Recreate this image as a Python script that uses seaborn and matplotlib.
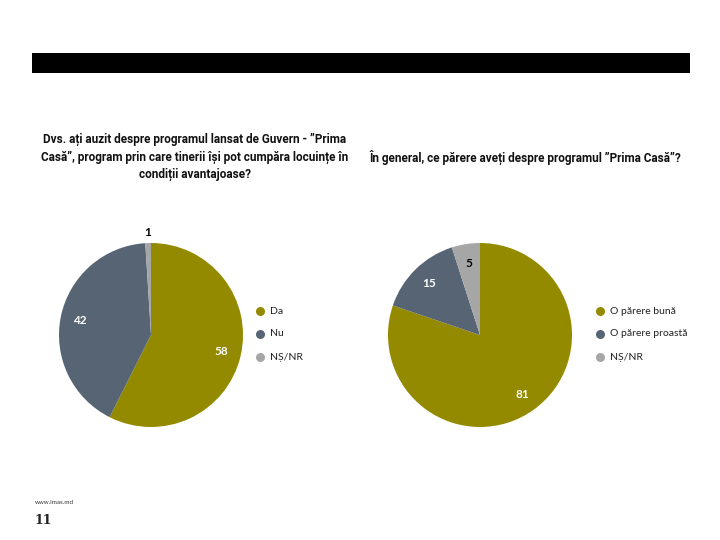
import numpy as np
import matplotlib
matplotlib.use("Agg")
import matplotlib.pyplot as plt
import seaborn as sns
from matplotlib.patches import Rectangle
from matplotlib.lines import Line2D

sns.set_theme(style="white")
plt.rcParams['font.family'] = ['Lato', 'DejaVu Sans']

# Data
q1_title = "Dvs. ați auzit despre programul lansat de Guvern - ”Prima\nCasă”, program prin care tinerii își pot cumpăra locuințe în\ncondiții avantajoase?"
q1_labels = ["Da", "Nu", "NȘ/NR"]
q1_values = [58, 42, 1]

q2_title = "În general, ce părere aveți despre programul ”Prima Casă”?"
q2_labels = ["O părere bună", "O părere proastă", "NȘ/NR"]
q2_values = [81, 15, 5]

colors = ["#948A00", "#566474", "#A6A6A6"]
text_colors = ["white", "white", "black"]

W, H = 720, 540
fig = plt.figure(figsize=(7.2, 5.4), dpi=100)
fig.patch.set_facecolor("white")

def fx(x): return x / W
def fy(y): return 1 - y / H

# black header bar
fig.patches.append(Rectangle((fx(32), fy(73)), fx(690) - fx(32), (73 - 53) / H,
                             transform=fig.transFigure, facecolor="black", edgecolor="none"))

def draw_pie(cx, cy, r, values, labels, title, title_xy, legend_x, outside_idx):
    ax = fig.add_axes([fx(cx - r), fy(cy + r), 2 * r / W, 2 * r / H])
    wedges, _ = ax.pie(values, colors=colors, startangle=90, counterclock=False,
                       wedgeprops=dict(linewidth=0))
    ax.set_xlim(-1, 1); ax.set_ylim(-1, 1)
    ax.set_aspect("equal")
    ax.axis("off")
    for i, (w, v) in enumerate(zip(wedges, values)):
        ang = np.deg2rad((w.theta1 + w.theta2) / 2)
        d = 1.12 if i in outside_idx else 0.79
        col = "black" if i in outside_idx else text_colors[i]
        ax.text(d * np.cos(ang), d * np.sin(ang), str(v), ha="center", va="center",
                fontsize=8.5, fontweight="bold", color=col, clip_on=False)
    fig.text(fx(title_xy[0]), fy(title_xy[1]), title, ha="center", va="center",
             multialignment="center", family=["Roboto", "DejaVu Sans"],
             fontsize=8.45, fontweight="bold", color="#111111", linespacing=1.4)
    for i, lab in enumerate(labels):
        y = 311 + i * 23
        fig.add_artist(Line2D([fx(legend_x)], [fy(y)], marker="o", markersize=6.5,
                              color=colors[i], markeredgewidth=0, transform=fig.transFigure))
        fig.text(fx(legend_x + 10), fy(y), lab, ha="left", va="center", fontsize=7.5,
                 color="#222222")

draw_pie(151, 335, 92, q1_values, q1_labels, q1_title, (195, 157), 260, [2])
draw_pie(480, 335, 92, q2_values, q2_labels, q2_title, (525, 157), 600, [])

fig.text(fx(35), fy(503), "www.imas.md", fontsize=4.5, ha="left", va="center", color="#333333")
fig.text(fx(35), fy(520), "11", fontsize=9, ha="left", va="center", fontweight="bold",
         family="DejaVu Serif", color="#222222")

fig.savefig("out.png", dpi=100, facecolor="white")
